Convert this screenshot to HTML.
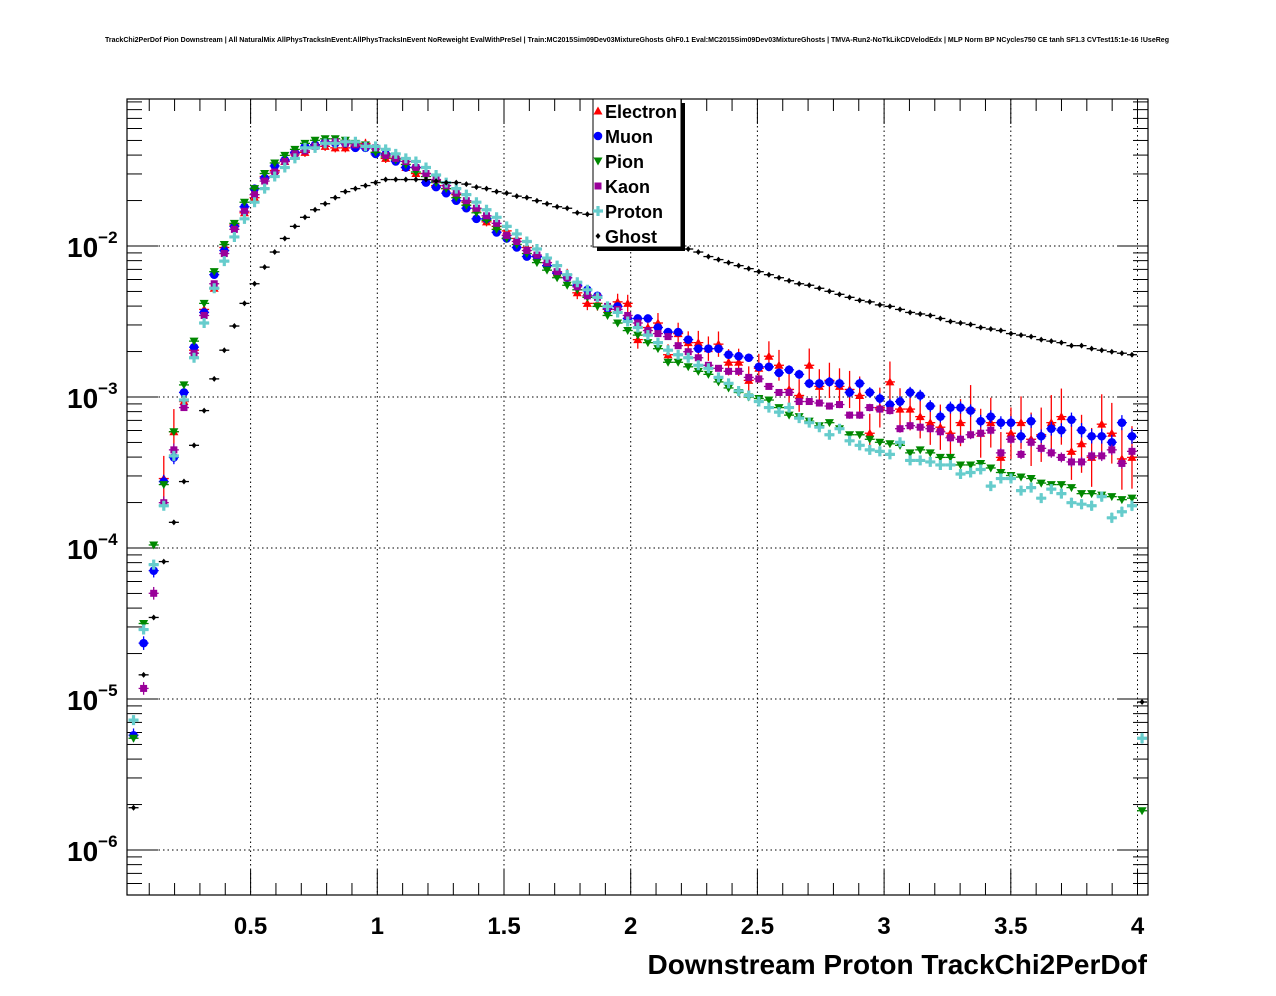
<!DOCTYPE html>
<html><head><meta charset="utf-8"><style>
html,body{margin:0;padding:0;background:#fff;}
svg{display:block;font-family:"Liberation Sans",sans-serif;}
</style></head><body>
<svg id="chart" width="1276" height="996" viewBox="0 0 1276 996" xmlns="http://www.w3.org/2000/svg">
<rect x="0" y="0" width="1276" height="996" fill="#fff"/>
<text x="637" y="42" font-size="7" font-weight="bold" text-anchor="middle" textLength="1064" lengthAdjust="spacingAndGlyphs">TrackChi2PerDof Pion Downstream | All NaturalMix AllPhysTracksInEvent:AllPhysTracksInEvent NoReweight EvalWithPreSel | Train:MC2015Sim09Dev03MixtureGhosts GhF0.1 Eval:MC2015Sim09Dev03MixtureGhosts | TMVA-Run2-NoTkLikCDVelodEdx | MLP Norm BP NCycles750 CE tanh SF1.3 CVTest15:1e-16 !UseReg</text>
<g id="grid"></g>
<g id="axes"></g>
<g id="series"></g>
<g id="legend"></g>
<text x="1147" y="974" font-size="28" font-weight="bold" text-anchor="end">Downstream Proton TrackChi2PerDof</text>
</svg>
<script>
// value of each bin = 10^(-exp); null = empty bin
const nBins = 101;
const binStart = 0.038, binStep = 0.0398;
const xTicks = [0.5, 1, 1.5, 2, 2.5, 3, 3.5, 4];
const xTickLabels = ["0.5", "1", "1.5", "2", "2.5", "3", "3.5", "4"];
const yDecades = [-2, -3, -4, -5, -6];
const yTickLabels = ["\u22122", "\u22123", "\u22124", "\u22125", "\u22126"];

const electronExp = [null,null,null,3.54,3.23,3.03,2.69,2.42,2.28,2.01,1.86,1.78,1.68,1.54,1.50,1.44,1.38,1.38,1.33,1.34,1.35,1.35,1.34,1.32,1.38,1.42,1.42,1.48,1.52,1.52,1.60,1.62,1.66,1.71,1.75,1.84,1.87,1.90,1.95,2.01,2.07,2.11,2.18,2.19,2.31,2.38,2.38,2.42,
2.37,2.38,2.62,2.54,2.51,2.72,2.58,2.64,2.64,2.68,2.65,2.77,2.77,2.89,2.81,2.73,2.79,2.95,2.99,2.79,2.93,2.89,2.93,2.95,2.99,3.24,
3.07,
2.90,3.08,3.08,3.13,3.17,3.20,3.24,3.17,3.08,3.24,3.17,3.40,3.24,3.17,3.28,3.25,3.17,3.13,3.36,3.31,3.40,3.18,3.24,3.41,3.40,
null];
const muonExp = [5.24,4.63,4.15,3.56,3.40,2.97,2.67,2.44,2.19,2.03,1.87,1.74,1.62,1.55,1.47,1.43,1.38,1.34,1.33,1.31,1.32,1.32,1.35,1.35,1.39,1.39,1.44,1.48,1.48,1.58,1.61,1.65,1.70,1.75,1.82,1.82,1.91,1.95,2.01,2.07,2.07,2.13,2.18,2.21,2.26,2.29,2.33,2.41,
2.40,2.48,2.48,2.48,2.54,2.57,2.57,2.62,2.68,2.68,2.68,2.72,2.73,2.74,2.80,2.80,2.84,2.82,2.85,2.91,2.91,2.90,2.91,2.97,2.91,2.97,
3.01,
3.05,3.03,2.97,2.99,3.06,3.13,3.07,3.07,3.09,3.16,3.13,3.17,3.17,3.26,3.16,3.26,3.21,3.22,3.15,3.22,3.26,3.26,3.30,3.17,3.26,
null];
const pionExp = [5.26,4.50,3.98,3.58,3.23,2.92,2.63,2.38,2.17,1.99,1.85,1.71,1.62,1.52,1.45,1.40,1.36,1.32,1.30,1.29,1.29,1.30,1.32,1.33,1.38,1.41,1.43,1.46,1.51,1.54,1.58,1.62,1.68,1.73,1.78,1.83,1.89,1.95,1.99,2.05,2.11,2.16,2.21,2.26,2.29,2.34,2.40,2.46,
2.51,2.56,2.59,2.64,2.68,2.77,2.77,2.80,2.83,2.85,2.90,2.94,2.97,3.00,3.01,3.02,3.07,3.12,3.13,3.16,3.19,3.17,3.21,3.25,3.25,3.28,
3.30,
3.31,3.32,3.37,3.35,3.37,3.40,3.40,3.45,3.45,3.44,3.47,3.50,3.52,3.53,3.54,3.57,3.58,3.58,3.60,3.64,3.64,3.65,3.66,3.68,3.67,
5.74];
const kaonExp = [null,4.93,4.30,3.70,3.35,3.07,2.71,2.46,2.25,2.05,1.89,1.77,1.66,1.57,1.51,1.44,1.39,1.37,1.34,1.32,1.31,1.32,1.33,1.34,1.35,1.40,1.42,1.44,1.48,1.52,1.56,1.60,1.65,1.70,1.75,1.80,1.85,1.93,1.97,2.03,2.06,2.11,2.17,2.21,2.27,2.33,2.34,2.40,
2.42,2.46,2.51,2.56,2.58,2.60,2.66,2.70,2.74,2.79,2.81,2.83,2.83,2.87,2.88,2.93,2.97,2.97,3.03,3.03,3.04,3.06,3.05,3.12,3.12,3.07,
3.08,
3.09,3.21,3.19,3.20,3.21,3.23,3.27,3.28,3.25,3.24,3.22,3.37,3.28,3.38,3.30,3.34,3.37,3.40,3.43,3.43,3.39,3.39,3.35,3.44,3.36,
null];
const protonExp = [5.14,4.54,4.11,3.72,3.39,3.02,2.74,2.51,2.28,2.10,1.94,1.82,1.71,1.62,1.54,1.48,1.42,1.35,1.35,1.32,1.32,1.31,1.31,1.34,1.34,1.36,1.39,1.42,1.44,1.48,1.53,1.58,1.62,1.66,1.71,1.76,1.81,1.87,1.92,1.97,2.02,2.08,2.13,2.19,2.24,2.29,2.34,2.40,
2.44,2.50,2.54,2.59,2.64,2.69,2.72,2.74,2.79,2.81,2.87,2.91,2.96,2.99,3.03,3.07,3.10,3.07,3.14,3.17,3.20,3.25,3.21,3.29,3.32,3.35,
3.36,
3.38,3.30,3.42,3.42,3.43,3.45,3.45,3.51,3.50,3.48,3.59,3.54,3.54,3.62,3.60,3.67,3.61,3.64,3.70,3.71,3.72,3.66,3.80,3.76,3.72,
5.26];
const ghostExp = [5.72,4.84,4.46,4.09,3.83,3.56,3.32,3.09,2.88,2.69,2.53,2.38,2.25,2.14,2.04,1.95,1.87,1.81,1.76,1.72,1.68,1.64,1.62,1.60,1.58,1.56,1.56,1.56,1.56,
1.56,1.57,1.58,1.58,1.59,1.61,1.62,1.64,1.65,1.67,1.68,
1.70,1.72,1.74,1.75,1.78,1.79,1.81,1.84,1.86,1.88,
1.91,1.93,1.95,1.97,2.00,2.02,2.04,2.07,2.09,2.11,
2.13,2.15,2.17,2.19,2.21,2.23,2.25,2.26,2.28,2.30,
2.32,2.34,2.36,2.37,2.39,2.40,2.42,2.44,2.45,2.46,
2.48,2.50,2.51,2.52,2.54,2.55,2.56,2.58,2.59,2.60,
2.62,2.63,2.64,2.66,2.66,2.68,2.69,2.70,2.71,2.72,
5.02];
const seriesNames = ["Electron","Muon","Pion","Kaon","Proton","Ghost"];

const NS = "http://www.w3.org/2000/svg";
const L = 127, R = 1148, T = 99, B = 895;
function X(x){ return 123.9 + 253.4 * x; }
function Y(lg){ return 246 - (lg + 2) * 151; }
function mk(tag, attrs, parent){
  const e = document.createElementNS(NS, tag);
  for (const k in attrs) e.setAttribute(k, attrs[k]);
  parent.appendChild(e);
  return e;
}
const grid = document.getElementById('grid');
const axes = document.getElementById('axes');
const series = document.getElementById('series');
const legend = document.getElementById('legend');

xTicks.forEach(function(v){
  const ln = mk('line', {x1:X(v), x2:X(v), y1:T, y2:B, stroke:'#000', 'stroke-width':1, 'stroke-dasharray':'1.5,3'}, grid);
  
  
});
yDecades.forEach(function(d){
  const ln = mk('line', {x1:L, x2:R, y1:Y(d), y2:Y(d), stroke:'#000', 'stroke-width':1, 'stroke-dasharray':'1.5,3'}, grid);
  
  
});

const frame = mk('rect', {x:L, y:T, width:R-L, height:B-T, fill:'none', stroke:'#000', 'stroke-width':1.2}, axes);



for (let i = 1; i <= 40; i++) {
  const v = i * 0.1;
  if (X(v) > R) break;
  const major = (i % 5 === 0);
  const len = major ? 25 : 12;
  const t1 = mk('line', {x1:X(v), x2:X(v), y1:B, y2:B-len, stroke:'#000', 'stroke-width':1}, axes);
  
  
  const t2 = mk('line', {x1:X(v), x2:X(v), y1:T, y2:T+len, stroke:'#000', 'stroke-width':1}, axes);
  
  
}
xTicks.forEach(function(v, i){
  const t = mk('text', {x:X(v), y:934, 'font-size':24, 'font-weight':'bold', 'text-anchor':'middle'}, axes);
  t.textContent = xTickLabels[i];
  
  
});
for (let d = -7; d <= -2; d++) {
  for (let m = 1; m <= 9; m++) {
    const lg = d + Math.log10(m);
    const y = Y(lg);
    if (y < T || y > B) continue;
    const len = (m === 1) ? 31 : 15;
    const t1 = mk('line', {x1:L, x2:L+len, y1:y, y2:y, stroke:'#000', 'stroke-width':1}, axes);
    
    
    const t2 = mk('line', {x1:R, x2:R-len, y1:y, y2:y, stroke:'#000', 'stroke-width':1}, axes);
    
    
  }
}
yDecades.forEach(function(d, i){
  const t = mk('text', {x:67, y:Y(d)+11, 'font-size':28, 'font-weight':'bold'}, axes);
  t.textContent = '10';
  const s = mk('tspan', {dy:-14, 'font-size':17}, t);
  s.textContent = yTickLabels[i];
  
  
});

function marker(kind, cx, cy, parent){
  let e;
  if (kind === 'tri-up') e = mk('path', {d:`M${cx},${cy-4.5}L${cx+4.5},${cy+3.5}L${cx-4.5},${cy+3.5}Z`, fill:'#ff0000'}, parent);
  else if (kind === 'circle') e = mk('circle', {cx:cx, cy:cy, r:4.3, fill:'#0000ff'}, parent);
  else if (kind === 'tri-down') e = mk('path', {d:`M${cx-4.5},${cy-3.5}L${cx+4.5},${cy-3.5}L${cx},${cy+4.5}Z`, fill:'#008800'}, parent);
  else if (kind === 'square') e = mk('rect', {x:cx-3.5, y:cy-3.5, width:7, height:7, fill:'#990099'}, parent);
  else if (kind === 'cross') e = mk('path', {d:`M${cx-1.6},${cy-5}h3.2v3.4h3.4v3.2h-3.4v3.4h-3.2v-3.4h-3.4v-3.2h3.4Z`, fill:'#66cccc'}, parent);
  else e = mk('path', {d:`M${cx},${cy-3}L${cx+2.5},${cy}L${cx},${cy+3}L${cx-2.5},${cy}Z`, fill:'#000'}, parent);
  return e;
}
const defs = [
  {name:'electron', data:electronExp, color:'#ff0000', kind:'tri-up', err:0.03, grow:1/10, early:0.12},
  {name:'muon', data:muonExp, color:'#0000ff', kind:'circle', err:0.015, grow:1/25, early:0.03},
  {name:'pion', data:pionExp, color:'#008800', kind:'tri-down', err:0.008, grow:1/40, early:0.01},
  {name:'kaon', data:kaonExp, color:'#990099', kind:'square', err:0.012, grow:1/30, early:0.03},
  {name:'proton', data:protonExp, color:'#66cccc', kind:'cross', err:0.012, grow:1/30, early:0.02},
  {name:'ghost', data:ghostExp, color:'#000000', kind:'diamond', err:0.004, grow:0, early:0.01}
];
defs.forEach(function(s){
  const g = mk('g', {}, series);
  
  
  for (let k = 0; k < nBins; k++) {
    const v = s.data[k];
    if (v === null || v === undefined) continue;
    const lg = -v;
    const cx = X(binStart + binStep * k), cy = Y(lg);
    if (cy > B + 5) continue;
    const hb = mk('line', {x1:cx-5, x2:cx+5, y1:cy, y2:cy, stroke:s.color, 'stroke-width':1.3}, g);
    
    
    let e = s.err * (1 + Math.max(0, (k - 40)) * s.grow);
    if (k < 5) e += s.early;
    const vb = mk('line', {x1:cx, x2:cx, y1:Math.max(T, Y(lg+e)), y2:Math.min(B, Y(lg-e)), stroke:s.color, 'stroke-width':1.3}, g);
    
    
    const m = marker(s.kind, cx, cy, g);
    
    
  }
});

const lx = 593, ly = 99, lw = 88, lh = 148;
const sh = mk('rect', {x:lx+4, y:ly+4, width:lw, height:lh, fill:'#000'}, legend);


const box = mk('rect', {x:lx, y:ly, width:lw, height:lh, fill:'#fff', stroke:'#000', 'stroke-width':1}, legend);


defs.forEach(function(s, i){
  const cy = 111 + i * 25;
  const m = marker(s.kind, 598, cy, legend);
  
  
  const t = mk('text', {x:605, y:cy+7, 'font-size':18, 'font-weight':'bold'}, legend);
  t.textContent = seriesNames[i];
  
  
});
</script>
</body></html>
